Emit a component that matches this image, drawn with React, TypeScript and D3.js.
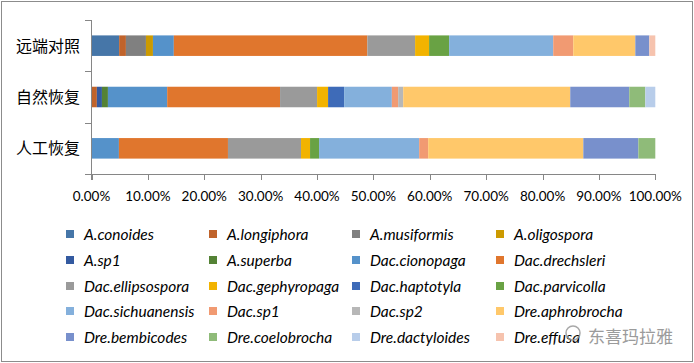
import React, { useRef, useEffect } from 'react';
import * as d3 from 'd3';

const categories = ['远端对照', '自然恢复', '人工恢复'];

const species = [
  'A.conoides', 'A.longiphora', 'A.musiformis', 'A.oligospora',
  'A.sp1', 'A.superba', 'Dac.cionopaga', 'Dac.drechsleri',
  'Dac.ellipsospora', 'Dac.gephyropaga', 'Dac.haptotyla', 'Dac.parvicolla',
  'Dac.sichuanensis', 'Dac.sp1', 'Dac.sp2', 'Dre.aphrobrocha',
  'Dre.bembicodes', 'Dre.coelobrocha', 'Dre.dactyloides', 'Dre.effusa',
];

const colors = [
  '#4676A8', '#C0632B', '#808080', '#CC9A00',
  '#335AA0', '#548235', '#5592CA', '#E0762D',
  '#9A9A9A', '#F2B300', '#3E6BB8', '#69A244',
  '#84B0DC', '#F19A72', '#B7B7B7', '#FFC86A',
  '#7890CC', '#8FBB79', '#B8CDEA', '#F6C3AE',
];

// percent share of each species, same order as `species`
const farControl = [4.9, 1.2, 3.55, 1.24, 0, 0, 3.7, 34.3, 8.46, 2.48, 0, 3.55, 18.45, 3.55, 0, 11.0, 2.48, 0, 0, 1.06];
const naturalRecovery = [0, 0.95, 0, 0, 0.9, 1.06, 10.5, 20.0, 6.56, 1.95, 2.84, 0, 8.46, 1.12, 0.89, 29.6, 10.46, 2.84, 1.77, 0];
const artificialRecovery = [0, 0, 0, 0, 0, 0, 4.86, 19.33, 12.95, 1.6, 0, 1.6, 17.74, 1.6, 0, 27.5, 9.76, 3.0, 0, 0];

const xTicks = [0, 0.1, 0.2, 0.3, 0.4, 0.5, 0.6, 0.7, 0.8, 0.9, 1.0];

const width = 694;
const height = 363;
const axisColor = '#868686';

const App = () => {
  const svgRef = useRef(null);

  useEffect(() => {
    const svg = d3.select(svgRef.current);
    svg.selectAll('*').remove();

    const rows = [farControl, naturalRecovery, artificialRecovery].map((vals, i) => {
      const row = { category: categories[i] };
      species.forEach((s, j) => { row[s] = vals[j]; });
      return row;
    });

    const x = d3.scaleLinear().domain([0, 1]).range([91.5, 655.3]);
    const y = d3.scaleBand().domain(categories).range([20, 174]).padding(0);
    const barH = y.bandwidth() * 0.4;

    const stacked = d3.stack()
      .keys(species)
      .offset(d3.stackOffsetExpand)(rows);

    // outer border
    svg.append('rect')
      .attr('x', 1.5).attr('y', 1.5)
      .attr('width', width - 3).attr('height', height - 3)
      .attr('fill', '#fff')
      .attr('stroke', '#8c8c8c');

    svg.append('g')
      .selectAll('g')
      .data(stacked)
      .join('g')
      .attr('fill', (d, i) => colors[i])
      .selectAll('rect')
      .data(d => d)
      .join('rect')
      .attr('x', d => x(d[0]))
      .attr('y', d => y(d.data.category) + (y.bandwidth() - barH) / 2)
      .attr('width', d => Math.max(0, x(d[1]) - x(d[0])))
      .attr('height', barH);

    // y axis
    const yAxis = svg.append('g').attr('stroke', axisColor).attr('stroke-width', 1);
    yAxis.append('line')
      .attr('x1', 91.5).attr('x2', 91.5).attr('y1', 20).attr('y2', 180);
    const yEdges = [20, ...categories.map(c => y(c) + y.bandwidth())];
    yAxis.selectAll('.ytick')
      .data(yEdges)
      .join('line')
      .attr('x1', 85).attr('x2', 91.5)
      .attr('y1', d => Math.round(d) + 0.5).attr('y2', d => Math.round(d) + 0.5);

    // x axis
    svg.append('line')
      .attr('x1', 85).attr('x2', 655.3)
      .attr('y1', 174.5).attr('y2', 174.5)
      .attr('stroke', axisColor);
    svg.append('g')
      .selectAll('line')
      .data(xTicks)
      .join('line')
      .attr('x1', d => Math.round(x(d)) + 0.5).attr('x2', d => Math.round(x(d)) + 0.5)
      .attr('y1', 174).attr('y2', 180)
      .attr('stroke', axisColor);

    svg.append('g')
      .selectAll('text')
      .data(xTicks)
      .join('text')
      .attr('x', d => x(d))
      .attr('y', 201)
      .attr('text-anchor', 'middle')
      .attr('font-family', 'Lato, sans-serif')
      .attr('font-size', 13.5)
      .attr('fill', '#000')
      .text(d => d3.format('.2%')(d));

    svg.append('g')
      .selectAll('text')
      .data(categories)
      .join('text')
      .attr('x', 80)
      .attr('y', d => y(d) + y.bandwidth() / 2 + 6)
      .attr('text-anchor', 'end')
      .attr('font-family', '"Noto Sans CJK SC", sans-serif')
      .attr('font-size', 16)
      .attr('fill', '#000')
      .text(d => d);

    // legend
    const colX = [66, 209, 352, 496];
    const rowY = [234, 260, 286, 311, 337];
    const legend = svg.append('g')
      .selectAll('g')
      .data(species)
      .join('g')
      .attr('transform', (d, i) => `translate(${colX[i % 4]},${rowY[Math.floor(i / 4)]})`);
    legend.append('rect')
      .attr('x', 0).attr('y', -4)
      .attr('width', 8).attr('height', 8)
      .attr('fill', (d, i) => colors[i]);
    legend.append('text')
      .attr('x', 18).attr('y', 5.5)
      .attr('font-family', 'Lato, sans-serif')
      .attr('font-style', 'italic')
      .attr('font-size', 15.5)
      .attr('fill', '#000')
      .text(d => d);

    // watermark
    const wm = svg.append('g').attr('opacity', 0.85);
    wm.append('circle')
      .attr('cx', 573).attr('cy', 333).attr('r', 7)
      .attr('fill', 'none').attr('stroke', '#9a9a9a').attr('stroke-width', 1.5);
    wm.append('text')
      .attr('x', 588).attr('y', 343)
      .attr('font-family', '"Noto Sans CJK SC", sans-serif')
      .attr('font-size', 17)
      .attr('fill', '#8a8a8a')
      .text('东喜玛拉雅');
  }, []);

  return (
    <svg
      ref={svgRef}
      width={width}
      height={height}
      style={{ position: 'absolute', left: 0, top: 0 }}
    ></svg>
  );
};

export default App;
